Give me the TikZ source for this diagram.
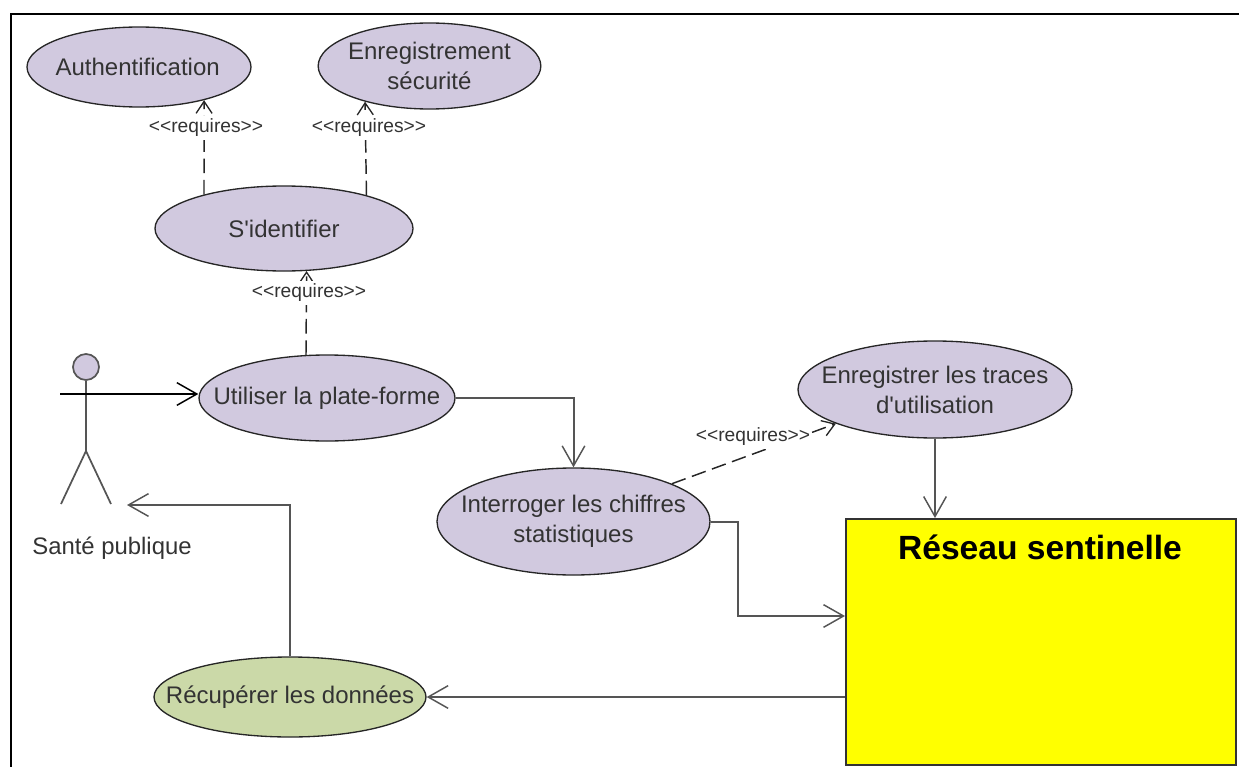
\documentclass[tikz,border=0pt]{standalone}
\usepackage{fontspec}
\setmainfont{Liberation Sans}
\usetikzlibrary{shapes.geometric,arrows.meta}
\definecolor{uc}{RGB}{209,201,223}
\definecolor{ucg}{RGB}{203,217,168}
\definecolor{txt}{RGB}{51,51,51}
\definecolor{ln}{RGB}{85,85,85}
\definecolor{boxy}{RGB}{255,255,0}
\tikzset{
  usecase/.style={ellipse,draw=black!85,line width=1pt,fill=uc,inner xsep=-30pt,inner ysep=-6pt,align=center,text=txt,font=\fontsize{18}{22.5}\selectfont},
  lbl/.style={inner xsep=0pt,inner ysep=2pt,fill=white,text=txt,font=\fontsize{14.4}{17}\selectfont},
  openhead/.style={-{Straight Barb[length=15pt,width=17pt,line width=1.1pt]}},
  smallhead/.style={-{Straight Barb[length=9pt,width=12pt,line width=1pt]}},
  assoc/.style={draw=ln,line width=1.5pt,openhead},
  dep/.style={draw=black!85,line width=1.1pt,dash pattern=on 11pt off 5pt,smallhead},
  stick/.style={draw=ln,line width=1.3pt},
}
\begin{document}
\begin{tikzpicture}[x=0.75pt,y=-0.75pt]
\useasboundingbox (0,0) rectangle (1239,767);
% frame
\coordinate (fa) at (11,767);
\coordinate (fb) at (11,14);
\coordinate (fc) at (1239,14);
\draw[black,line width=2pt] (fa) -- (fb) -- (fc);
% nodes
\node[usecase,minimum width=168pt,minimum height=60pt] (auth) at (139,67) {\hspace*{-2pt}Authentification};
\node[usecase,minimum width=167pt,minimum height=64.5pt] (enr) at (429.5,66) {Enregistrement\\sécurité};
\node[usecase,minimum width=193.5pt,minimum height=63.75pt] (sid) at (284,228.5) {S\textquotesingle identifier};
\node[usecase,minimum width=192pt,minimum height=64.5pt] (util) at (327,398) {Utiliser la plate-forme};
\node[usecase,minimum width=205.5pt,minimum height=72.75pt] (tr) at (935,389.5) {Enregistrer les traces\\d\textquotesingle utilisation};
\node[usecase,minimum width=204.75pt,minimum height=80.25pt] (inter) at (573.5,521.5) {Interroger les chiffres\\statistiques};
\node[usecase,fill=ucg,minimum width=204pt,minimum height=60pt] (recup) at (290,697) {Récupérer les données};
\node[draw=black!80,line width=1.5pt,fill=boxy,minimum width=292.5pt,minimum height=184.5pt,inner sep=0pt] (box) at (1041,642) {};
\node[inner sep=0pt,font=\fontsize{25.2}{30}\selectfont\bfseries] (boxl) at (1040,547) {Réseau sentinelle};
% actor
\node[circle,draw=ln,line width=1.3pt,fill=uc,minimum size=19.5pt,inner sep=0pt] (head) at (86,367) {};
\coordinate (hip) at (86,451);
\coordinate (footl) at (61,504);
\coordinate (footr) at (111,504);
\coordinate (arm) at (60,394);
\coordinate (act) at (127,505);
\draw[stick] (head.south) -- (hip);
\draw[stick] (footl) -- (hip) -- (footr);
\node[inner sep=0pt,text=txt,font=\fontsize{17.9}{21}\selectfont] (sante) at (112,548) {Santé publique};
% associations
\draw[draw=black,line width=1.3pt,openhead] (arm) -- (arm -| util.west);
\draw[assoc] (util.east) -| (inter.north);
\draw[assoc] (tr.south) -- (tr.south |- box.north);
\draw[assoc] (inter.east) -- ++(27,0) |- ([yshift=19.5pt]box.west);
\draw[assoc] (box.west |- recup.east) -- (recup.east);
\draw[assoc] (recup.north) |- (act);
% dependencies
\draw[dep] (sid.157.8) -- (auth.-27.1);
\draw[dep] (sid.22.2) -- (enr.-151.4);
\draw[dep] (util.116.3) -- (sid.-62.3);
\draw[dep] (inter.21.2) -- (tr.199.6);
% labels
\node[lbl] (l1) at (206,128) {<{}<requires>{}>};
\node[lbl] (l2) at (369,128) {<{}<requires>{}>};
\node[lbl] (l3) at (309,293) {<{}<requires>{}>};
\node[lbl] (l4) at (753,437) {<{}<requires>{}>};
\end{tikzpicture}
\end{document}
